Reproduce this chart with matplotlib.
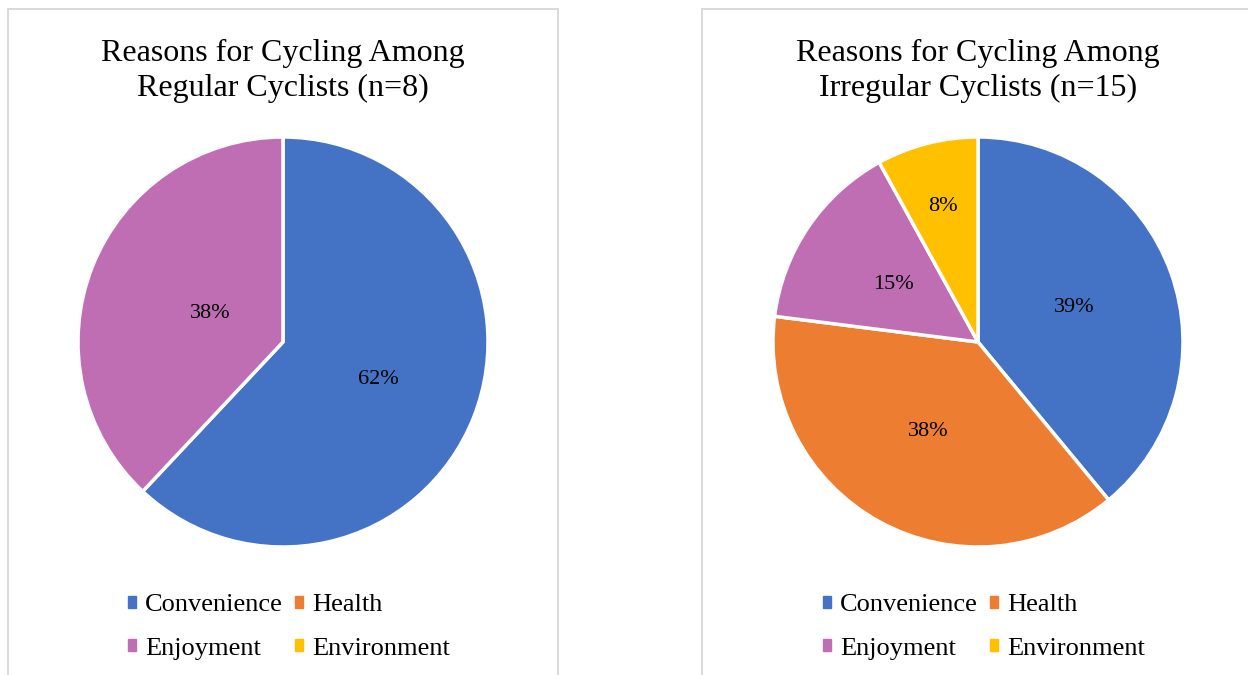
import numpy as np
import matplotlib.pyplot as plt
from matplotlib.patches import Rectangle, Patch

# data
categories = ['Convenience', 'Health', 'Enjoyment', 'Environment']
colors = ['#4472C4', '#ED7D31', '#C06EB3', '#FFC000']
regular_pct = [62, 0, 38, 0]
irregular_pct = [39, 38, 15, 8]
titles = ['Reasons for Cycling Among\nRegular Cyclists (n=8)',
          'Reasons for Cycling Among\nIrregular Cyclists (n=15)']

W, H = 1248, 675
serif = 'Liberation Serif'


def px(x0, y0, w, h):
    # pixel box (top-left origin) -> figure fraction
    return [x0 / W, 1 - (y0 + h) / H, w / W, h / H]


fig = plt.figure(figsize=(W / 100, H / 100), dpi=100)

# panel frames
for x0, x1 in [(8, 558), (702, 1260)]:
    fig.add_artist(Rectangle((x0 / W, -0.02), (x1 - x0) / W, 1.02 - 9 / H,
                             transform=fig.transFigure, fill=False,
                             ec='#D9D9D9', lw=1.4))

panels = [(283, regular_pct, [0.5, 0.38]), (978, irregular_pct, [0.5, 0.5, 0.5, 0.68])]
R = 205
cy = 342

# legend fills column by column, so reorder to get rows Convenience/Health, Enjoyment/Environment
order = [0, 2, 1, 3]

for (cx, vals, dists), title in zip(panels, titles):
    keep = [i for i, v in enumerate(vals) if v > 0]
    v = [vals[i] for i in keep]
    c = [colors[i] for i in keep]
    ax = fig.add_axes(px(cx - R, cy - R, 2 * R, 2 * R))
    wedges, _ = ax.pie(v, colors=c, startangle=90, counterclock=False, radius=1,
                       wedgeprops=dict(edgecolor='white', linewidth=2.5))
    for w, val, d in zip(wedges, v, dists):
        mid = np.deg2rad((w.theta1 + w.theta2) / 2)
        ax.text(d * np.cos(mid), d * np.sin(mid), f'{val}%', ha='center', va='center',
                fontsize=16, family=serif, color='#000000')
    ax.set_xlim(-1, 1)
    ax.set_ylim(-1, 1)
    ax.set_aspect('equal')
    ax.axis('off')

    fig.text(cx / W, 1 - 71 / H, title, ha='center', va='center', fontsize=23,
             family=serif, linespacing=1.25)

    handles = [Patch(color=colors[i]) for i in order]
    labels = [categories[i] for i in order]
    fig.legend(handles, labels, ncol=2, loc='center', frameon=False,
               bbox_to_anchor=((cx + 6) / W, 1 - 627 / H),
               prop=dict(family=serif, size=19), handlelength=0.3, handleheight=0.3,
               handletextpad=0.35, columnspacing=0.45, labelspacing=0.8)

fig.savefig('out.png', dpi=100)
